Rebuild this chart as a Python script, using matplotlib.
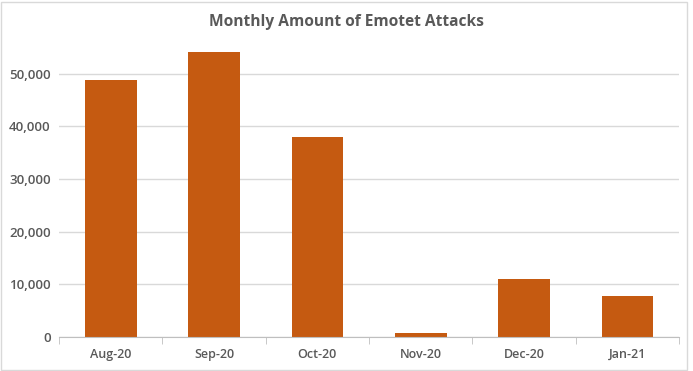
import numpy as np
import matplotlib
matplotlib.use("Agg")
import matplotlib.pyplot as plt
from matplotlib.ticker import FuncFormatter, FixedLocator
from matplotlib.patches import Rectangle

months = ["Aug-20", "Sep-20", "Oct-20", "Nov-20", "Dec-20", "Jan-21"]
attacks = [48800, 54100, 37900, 750, 11000, 7750]
y_ticks = [0, 10000, 20000, 30000, 40000, 50000]

bar_color = "#C55A11"
text_color = "#595959"

plt.rcParams["font.family"] = ["Open Sans", "DejaVu Sans"]

fig = plt.figure(figsize=(6.93, 3.71), dpi=100)
ax = fig.add_axes([59 / 693, 34 / 371, 620 / 693, 287 / 371])

x = np.arange(len(months))
ax.bar(x, attacks, width=0.5, color=bar_color, zorder=3)

ax.set_xlim(-0.5, len(months) - 0.5)
ax.set_ylim(0, 54500)
ax.set_yticks(y_ticks)
ax.yaxis.set_major_formatter(FuncFormatter(lambda v, p: f"{int(v):,}"))
ax.set_xticks(x)
ax.set_xticklabels(months)
ax.xaxis.set_minor_locator(FixedLocator(np.arange(-0.5, len(months), 1.0)))

ax.grid(axis="y", color="#D9D9D9", linewidth=1, zorder=0)
for s in ["top", "right", "left"]:
    ax.spines[s].set_visible(False)
ax.spines["bottom"].set_color("#BFBFBF")
ax.spines["bottom"].set_zorder(4)

ax.tick_params(axis="y", length=0, labelsize=9.5, labelcolor=text_color, pad=6)
ax.tick_params(axis="x", which="major", length=0, labelsize=9, labelcolor=text_color, pad=8)
ax.tick_params(axis="x", which="minor", length=5, color="#BFBFBF", direction="out")
for lbl in ax.get_xticklabels() + ax.get_yticklabels():
    lbl.set_fontweight("semibold")

fig.text(0.5, 1 - 22 / 371, "Monthly Amount of Emotet Attacks", ha="center", va="center",
         fontsize=11.2, fontweight="bold", color=text_color)

# light frame round the chart area
fig.patches.append(Rectangle((1 / 693, 1 / 371), 686 / 693, 368 / 371, transform=fig.transFigure,
                             fill=False, edgecolor="#D9D9D9", linewidth=1))

fig.savefig("out.png", dpi=100)
